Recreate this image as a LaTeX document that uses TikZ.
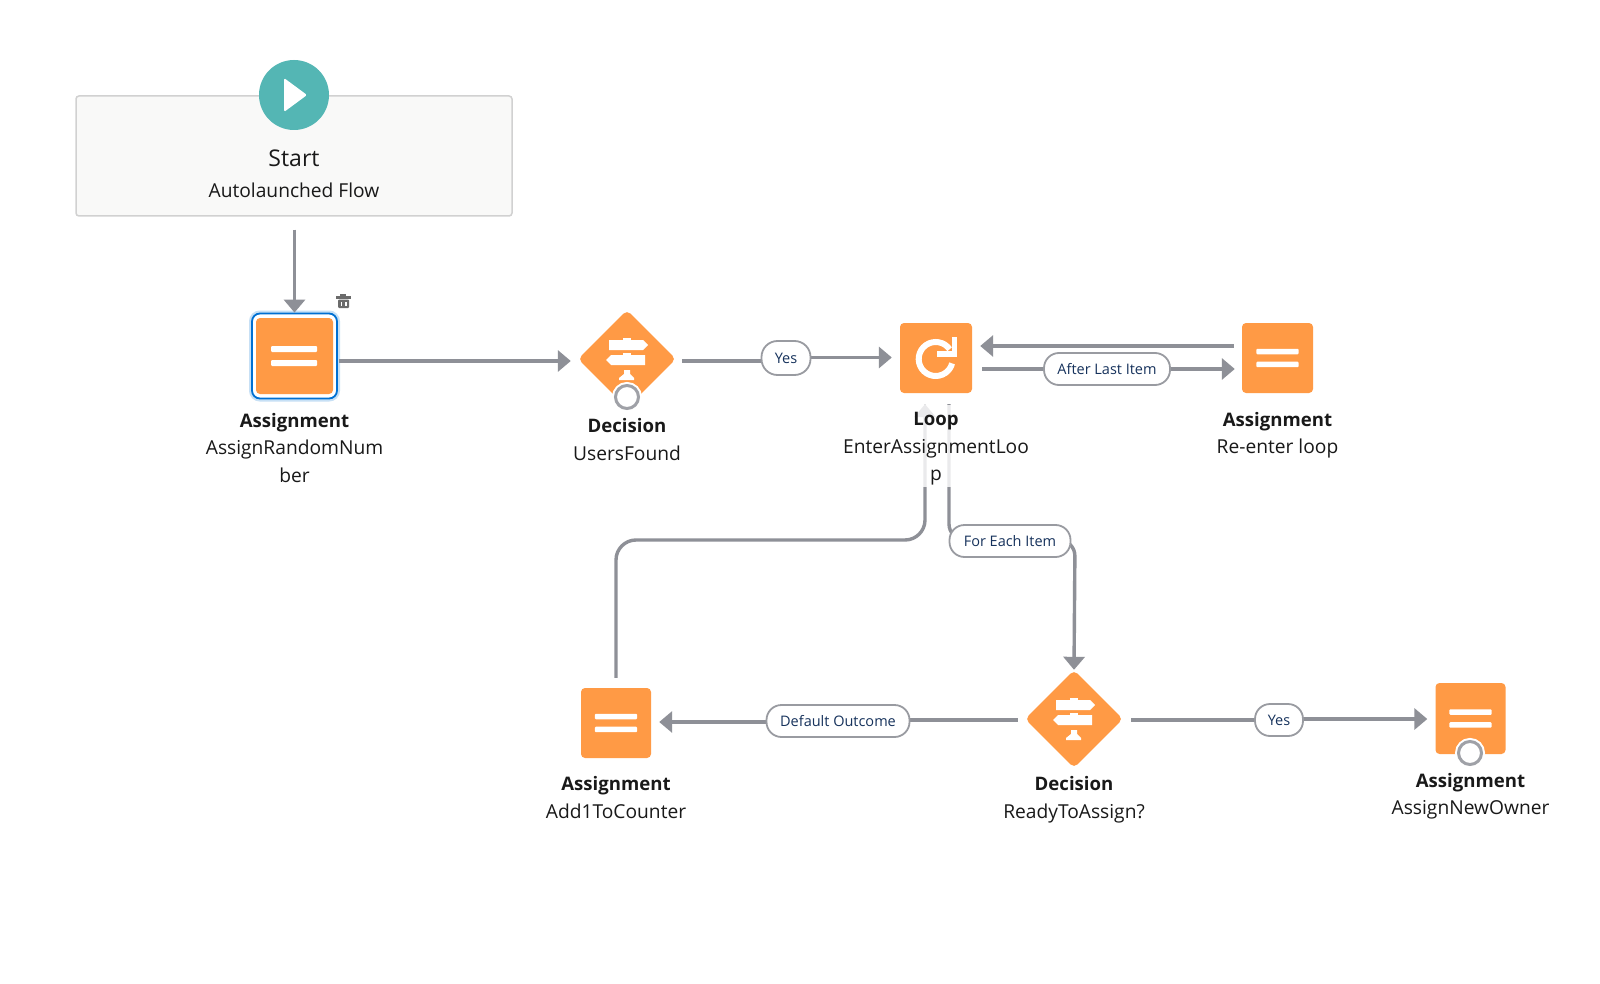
\documentclass[tikz,border=0pt]{standalone}
\usepackage{fontspec}
\usepackage{xcolor}
\setmainfont{Open Sans}
\usetikzlibrary{arrows.meta,shapes.geometric}

\definecolor{flowOrange}{HTML}{FF9A45}
\definecolor{flowGray}{HTML}{8E9097}
\definecolor{flowTeal}{HTML}{54B6B4}
\definecolor{flowNavy}{HTML}{16325C}
\definecolor{flowBlue}{HTML}{0070D2}
\definecolor{flowPanel}{HTML}{F9F9F8}

\newcommand{\steptitle}[1]{{\fontsize{18.6}{27.5}\selectfont\bfseries #1}}

\tikzset{
    x=1pt, y=-1pt,
    flowline/.style={flowGray, line width=3.4pt},
    flowarrow/.style={flowline, -{Triangle[length=13pt,width=21pt]}},
    orangebox/.style={rectangle, fill=flowOrange, rounded corners=4pt, inner sep=0pt, minimum width=70pt, minimum height=70pt},
    orangediamond/.style={diamond, aspect=1, fill=flowOrange, rounded corners=5pt, inner sep=0pt, minimum size=98pt},
    pill/.style={rectangle, rounded corners=15pt, draw=flowGray!90, line width=1.8pt, fill=white, text=flowNavy, inner sep=0pt, minimum height=32pt, font=\fontsize{14.5}{18}\selectfont},
    steplabel/.style={align=center, inner sep=0pt, text=black!90, font=\fontsize{19.2}{27.5}\selectfont},
    endring/.style={circle, draw=flowGray!85, line width=3pt, fill=white, inner sep=0pt, minimum size=23pt, preaction={draw=white, line width=7pt}},
    pics/eqicon/.style={code={
        \fill[white, rounded corners=1pt] (-23,-10) rectangle (23,-4);
        \fill[white, rounded corners=1pt] (-23,4) rectangle (23,10);
    }},
    pics/signicon/.style={code={
        \fill[white] (-18,-19) -- (16,-19) -- (21,-14) -- (16,-9) -- (-18,-9) -- cycle;
        \fill[white] (-4,-21) rectangle (4,-19);
        \fill[white] (-16,-4) -- (18,-4) -- (18,6) -- (-16,6) -- (-21,1) -- cycle;
        \fill[white] (-4,-6) rectangle (4,-4);
        \fill[white] (-3,11) -- (3,11) -- (3,15) -- (7,19) -- (7,21) -- (-8,21) -- (-8,19) -- (-3,15) -- cycle;
    }}
}

\begin{document}
\begin{tikzpicture}
        \useasboundingbox[fill=white] (0,0) rectangle (1600,984);

        \coordinate(c1) at (925,540);
        \coordinate(c2) at (949,540);
        \coordinate(c3) at (1075,540);

        % start
        \node[draw=black!18, line width=1.5pt, fill=flowPanel, rounded corners=3pt, minimum width=436pt, minimum height=120pt, inner sep=0pt] (start) at (294,156) {};
        \node[circle, fill=flowTeal, minimum size=70pt, inner sep=0pt] (play) at (294,95) {};
        \fill[white, rounded corners=1.5pt] (284,78) -- (307,95) -- (284,112) -- cycle;
        \node[inner sep=0pt, font=\fontsize{23}{27}\selectfont, text=black!90] (startname) at (294,158) {Start};
        \node[inner sep=0pt, font=\fontsize{19.2}{24}\selectfont, text=black!90] (starttype) at (294,190.5) {Autolaunched Flow};

        % boxes
        \node[rectangle, rounded corners=8pt, draw=flowBlue!22, line width=6pt, minimum size=85pt, inner sep=0pt] (glow) at (294.5,356) {};
        \node[rectangle, rounded corners=8pt, draw=flowBlue, line width=1.8pt, fill=white, minimum size=85pt, inner sep=0pt] (asg1) at (294.5,356) {};
        \node[orangebox, minimum width=77pt, minimum height=76pt] (asg1in) at (294.5,356) {};
        \pic at (294,356) {eqicon};
        \node[orangediamond] (dec1) at (627,359) {};
        \pic at (627,359) {signicon};
        \node[orangebox, minimum width=72pt] (loop1) at (936,358) {};
        \node[orangebox, minimum width=71pt] (asg2) at (1277.5,358) {};
        \pic[scale=.92] at (1277.5,358) {eqicon};
        \node[orangebox] (asg3) at (616,723) {};
        \pic[scale=.92] at (616,723) {eqicon};
        \node[orangediamond] (dec2) at (1074,719) {};
        \pic at (1074,719) {signicon};
        \node[orangebox, minimum height=71pt] (asg4) at (1470.5,718.5) {};
        \pic[scale=.92] at (1470.5,718.5) {eqicon};

        \draw[white, line width=6pt] (-35:17) ++(935.7,359) arc (-35:-345:17);
        \draw[white, line width=5.5pt, line join=miter] (937,354) -- (954.5,354) -- (954.5,337);

        % connectors
        \draw[flowarrow, shorten <=1pt, shorten >=0pt, shorten <=13pt] (start.south -| asg1) -- (asg1.north);
        \draw[flowarrow, shorten <=1pt, shorten >=7pt] ([yshift=-5pt]asg1.east) -- ([yshift=-2pt]dec1.west);
        \draw[flowline, shorten <=6pt] ([yshift=-2pt]dec1.east) -- (770,361);
        \draw[flowarrow, shorten >=8pt] (786,357.5) -- (loop1.west |- 0,357.5);
        \draw[flowarrow, shorten <=8pt, shorten >=8pt] (asg2.west |- 0,346) -- (loop1.east |- 0,346);
        \draw[flowarrow, shorten <=10pt, shorten >=7pt] (loop1.east |- 0,369) -- (asg2.west |- 0,369);
        \draw[flowarrow, rounded corners=20pt, shorten <=10pt, shorten >=11pt] (asg3.north) |- (c1) -- (c1 |- loop1.south);
        \draw[flowarrow, rounded corners=16pt, shorten <=11pt] (c2 |- loop1.south) |- (c3) -- (dec2.north);
        \draw[flowline, shorten <=7pt] ([yshift=-1pt]dec2.west) -- (838,720);
        \draw[flowarrow, shorten >=8pt] (838,722) -- (asg3.east |- 0,722);
        \draw[flowline, shorten <=8pt] ([yshift=-1pt]dec2.east) -- (1279,720);
        \draw[flowarrow, shorten >=8pt] (1279,719) -- (asg4.west |- 0,719);

        % pills
        \node[pill, minimum width=49pt, minimum height=34pt, rounded corners=16pt] (yes1) at (786,358) {Yes};
        \node[pill, minimum width=126pt] (after) at (1107,369) {After Last Item};
        \node[pill, minimum width=121pt] (foreach) at (1010,541) {For Each Item};
        \node[pill, minimum width=143pt] (default) at (838,721) {Default Outcome};
        \node[pill, minimum width=48pt] (yes2) at (1279,720) {Yes};

        % rings
        \node[endring] (end1) at (627,397) {};
        \node[endring] (end2) at (1470,753) {};

        % labels
        \node[fill=white, fill opacity=.82, minimum width=182pt, minimum height=82pt, inner sep=0pt] (fade) at (936,446) {};
        \node[steplabel] (txt1) at (294.5,448) {\steptitle{Assignment}\\AssignRandomNum\\ber};
        \node[steplabel] (txt2) at (627,439.5) {\steptitle{Decision}\\UsersFound};
        \node[steplabel] (txt3) at (936,449) {\steptitle{Loop}\\EnterAssignmentLoo\\p};
        \node[steplabel] (txt4) at (1277.5,435) {\steptitle{Assignment}\\Re-enter loop};
        \node[steplabel] (txt5) at (616,797.5) {\steptitle{Assignment}\\Add1ToCounter};
        \node[steplabel] (txt6) at (1074,799.5) {\steptitle{Decision}\\ReadyToAssign?};
        \node[steplabel] (txt7) at (1470.5,796) {\steptitle{Assignment}\\AssignNewOwner};

        % trash
        \fill[black!58] (336,296) rectangle (351,298.5);
        \fill[black!58] (340,293.5) rectangle (346,296);
        \fill[black!58, rounded corners=1pt] (338,299.5) rectangle (349,308);
        \fill[white] (340.5,301.5) rectangle (342.3,306);
        \fill[white] (344.7,301.5) rectangle (346.5,306);
    \end{tikzpicture}
\end{document}
